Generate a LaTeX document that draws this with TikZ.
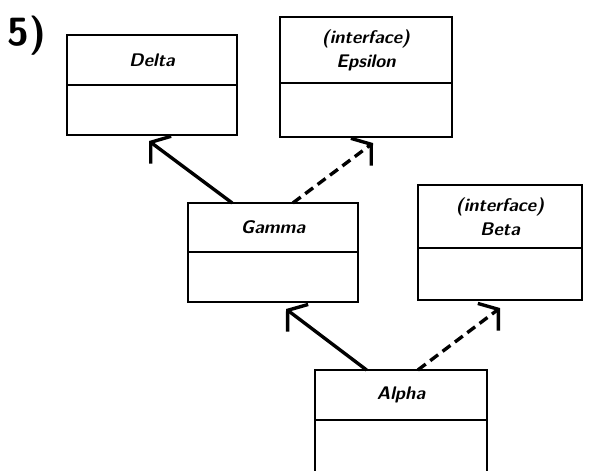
\documentclass[tikz,border=0pt]{standalone}
\usetikzlibrary{arrows.meta, calc, positioning}
\tikzset{
    classhead/.style={rectangle, draw=black, line width=1.3pt, align=center, outer sep=0pt,
        minimum width=4.25cm, minimum height=1.25cm, inner sep=2pt,
        font=\sffamily\bfseries\itshape\fontsize{13}{17}\selectfont},
    classbody/.style={rectangle, draw=black, line width=1.3pt, outer sep=0pt,
        minimum width=4.25cm, minimum height=1.25cm, inner sep=0pt},
    inherit/.style={-{Straight Barb[length=3.2mm, width=8.5mm]}, line width=2.4pt},
    realize/.style={inherit, dash pattern=on 7pt off 4pt},
}
\begin{document}
\begin{tikzpicture}[x=0.025cm, y=-0.025cm]
    \useasboundingbox[fill=white] (0,0) rectangle (590,471);
    \node[font=\sffamily\bfseries\fontsize{28}{28}\selectfont] (num) at (27,36) {5)};
    % classes
    \node[classhead] (delta) at (152,60) {Delta};
    \node[classbody, below=0pt of delta] (deltab) {};
    \node[classhead, minimum width=4.3cm, minimum height=1.65cm] (eps) at (366,50)
        {(interface)\\Epsilon};
    \node[classbody, minimum width=4.3cm, minimum height=1.35cm, below=0pt of eps] (epsb) {};
    \node[classhead, minimum height=1.225cm] (gamma) at (273,227.5) {Gamma};
    \node[classbody, below=0pt of gamma] (gammab) {};
    \node[classhead, minimum width=4.1cm, minimum height=1.575cm] (beta) at (500,216.5)
        {(interface)\\Beta};
    \node[classbody, minimum width=4.1cm, minimum height=1.3cm, below=0pt of beta] (betab) {};
    \node[classhead, minimum width=4.3cm] (alpha) at (401,395) {Alpha};
    \node[classbody, minimum width=4.3cm, minimum height=1.375cm, below=0pt of alpha] (alphab) {};
    % arrows
    \draw[inherit] (gamma.149) -- ($(deltab.south)+(-3,6)$);
    \draw[realize] (gamma.51) -- ($(epsb.south)+(7,6)$);
    \draw[inherit] (alpha.144) -- ($(gammab.south)+(13,7)$);
    \draw[realize] (alpha.56) -- ($(betab.south)+(0,8)$);
\end{tikzpicture}
\end{document}
